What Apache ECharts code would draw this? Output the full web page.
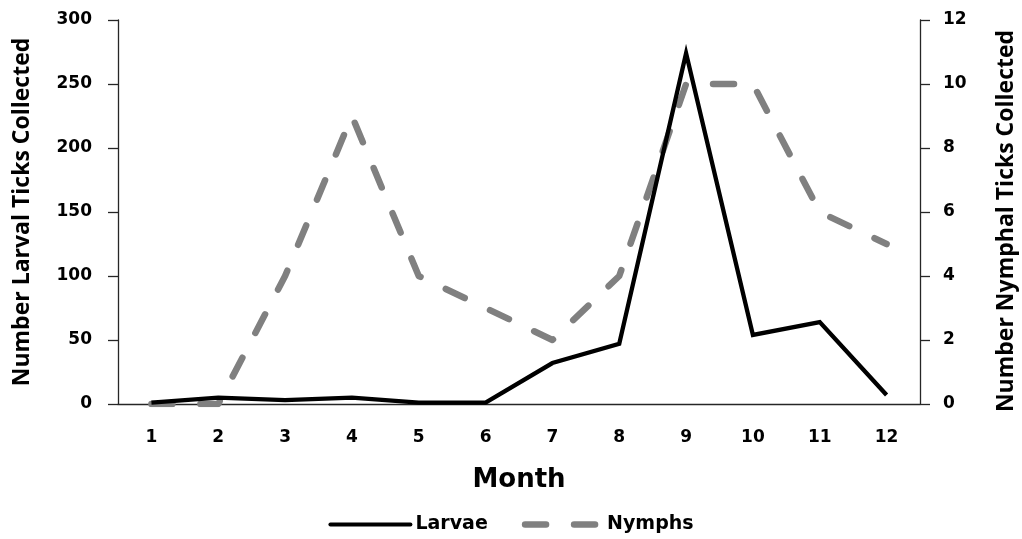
<!DOCTYPE html>
<html>
<head>
<meta charset="utf-8">
<script src="https://cdn.jsdelivr.net/npm/echarts@6/dist/echarts.min.js"></script>
<style>
html,body{margin:0;padding:0;background:#fff;}
#chart{width:1022px;height:539px;}
</style>
</head>
<body>
<div id="chart"></div>
<script>
const months = ['1','2','3','4','5','6','7','8','9','10','11','12'];
const larvae = [1, 5, 3, 5, 1, 1, 32, 47, 274, 54, 64, 7];
const nymphs = [0, 0, 4, 9, 4, 3, 2, 4, 10, 10, 6, 5];
const leftTicks = {min: 0, max: 300, interval: 50};
const rightTicks = {min: 0, max: 12, interval: 2};

const WIDE = '"DejaVu Sans", sans-serif';
const TITLE = '"Open Sans", "DejaVu Sans", sans-serif';
const chart = echarts.init(document.getElementById('chart'), null, {renderer: 'canvas'});
const axisLine = {show: true, lineStyle: {color: '#262626', width: 1.3}};
const tickStyle = {show: true, length: 10, inside: false, lineStyle: {color: '#262626', width: 1.3}};
const nymphDash = [21, 28];
chart.setOption({
  animation: false,
  backgroundColor: '#ffffff',
  textStyle: {fontFamily: WIDE},
  grid: {left: 118, right: 102, top: 20, bottom: 135, containLabel: false, outerBoundsMode: 'none'},
  legend: {
    top: 510, left: 'center',
    itemWidth: 80, itemHeight: 22, itemGap: 31,
    itemStyle: {opacity: 0},
    textStyle: {fontFamily: WIDE, fontWeight: 'bold', fontSize: 19, color: '#000'},
    data: [
      {name: 'Larvae', lineStyle: {width: 4, color: '#000', type: 'solid', cap: 'round'}},
      {name: 'Nymphs', lineStyle: {width: 6.5, color: '#808080', type: nymphDash, dashOffset: -3, cap: 'round'}}
    ]
  },
  xAxis: {
    type: 'category',
    data: months,
    boundaryGap: true,
    name: 'Month',
    nameLocation: 'middle',
    nameGap: 63,
    nameTextStyle: {fontFamily: WIDE, fontWeight: 'bold', fontSize: 26, color: '#000'},
    axisLine: axisLine,
    axisTick: {show: false},
    axisLabel: {fontFamily: WIDE, fontWeight: 'bold', fontSize: 17, color: '#000', margin: 25},
    splitLine: {show: false}
  },
  yAxis: [
    {
      type: 'value',
      position: 'left',
      min: leftTicks.min, max: leftTicks.max, interval: leftTicks.interval,
      name: 'Number Larval Ticks Collected',
      nameLocation: 'middle',
      nameRotate: 90,
      nameGap: 84,
      nameTextStyle: {fontFamily: TITLE, fontWeight: 'bold', fontSize: 23, color: '#000'},
      axisLine: axisLine,
      axisTick: tickStyle,
      axisLabel: {fontFamily: WIDE, fontWeight: 'bold', fontSize: 17, color: '#000', margin: 26},
      splitLine: {show: false}
    },
    {
      type: 'value',
      position: 'right',
      min: rightTicks.min, max: rightTicks.max, interval: rightTicks.interval,
      name: 'Number Nymphal Ticks Collected',
      nameLocation: 'middle',
      nameRotate: 90,
      nameGap: 75,
      nameTextStyle: {fontFamily: TITLE, fontWeight: 'bold', fontSize: 23, color: '#000', padding: [0, 18, 0, 0]},
      axisLine: axisLine,
      axisTick: tickStyle,
      axisLabel: {fontFamily: WIDE, fontWeight: 'bold', fontSize: 17, color: '#000', margin: 23},
      splitLine: {show: false}
    }
  ],
  series: [
    {
      name: 'Nymphs',
      type: 'line',
      yAxisIndex: 1,
      data: nymphs,
      symbol: 'none',
      z: 2,
      itemStyle: {color: '#808080'},
      lineStyle: {color: '#808080', width: 6.5, type: nymphDash, cap: 'round', join: 'round'}
    },
    {
      name: 'Larvae',
      type: 'line',
      yAxisIndex: 0,
      data: larvae,
      symbol: 'none',
      z: 3,
      itemStyle: {color: '#000000'},
      lineStyle: {color: '#000000', width: 4.3, join: 'miter'}
    }
  ]
});
</script>
</body>
</html>
